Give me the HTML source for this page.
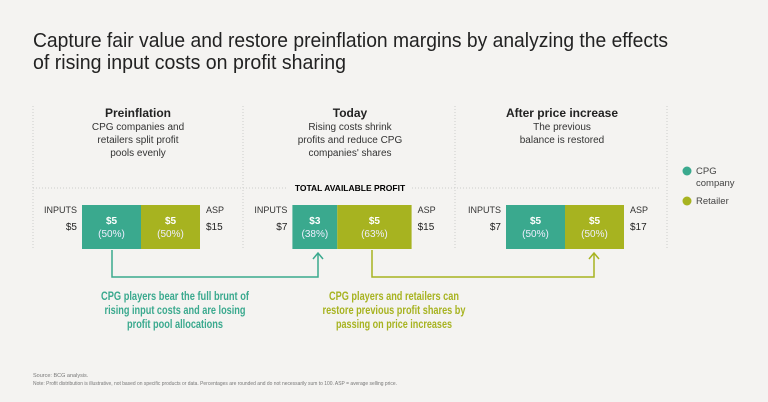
<!DOCTYPE html>
<html><head><meta charset="utf-8"><style>
body{margin:0;background:#f4f3f1;font-family:"Liberation Sans",sans-serif;color:#222}
svg{display:block}
</style></head><body>
<svg width="768" height="402" viewBox="0 0 768 402" font-family="Liberation Sans, sans-serif">
<rect width="768" height="402" fill="#f4f3f1"/>
<text x="33" y="47" font-size="20" fill="#222" textLength="635" lengthAdjust="spacingAndGlyphs">Capture fair value and restore preinflation margins by analyzing the effects</text>
<text x="33" y="69" font-size="20" fill="#222" textLength="313" lengthAdjust="spacingAndGlyphs">of rising input costs on profit sharing</text>
<g stroke="#ccc" stroke-dasharray="1,2" stroke-width="1">
<line x1="33" y1="106" x2="33" y2="248"/><line x1="243" y1="106" x2="243" y2="248"/>
<line x1="455" y1="106" x2="455" y2="248"/><line x1="667" y1="106" x2="667" y2="248"/>
<line x1="33" y1="188" x2="288" y2="188"/><line x1="412" y1="188" x2="660" y2="188"/>
</g>
<text x="350" y="191" font-size="8.5" font-weight="bold" text-anchor="middle">TOTAL AVAILABLE PROFIT</text>
<g id="panels"></g>
<path d="M112 250V277H318V253" fill="none" stroke="#3aa98e" stroke-width="1.5"/>
<path d="M313 259L318 253L323 259" fill="none" stroke="#3aa98e" stroke-width="1.5"/>
<path d="M372 250V277H594V253" fill="none" stroke="#a7b320" stroke-width="1.5"/>
<path d="M589 259L594 253L599 259" fill="none" stroke="#a7b320" stroke-width="1.5"/>
<g font-size="12" font-weight="bold" fill="#3aa98e" text-anchor="middle">
<text x="175" y="300" textLength="148" lengthAdjust="spacingAndGlyphs">CPG players bear the full brunt of</text>
<text x="175" y="314" textLength="141" lengthAdjust="spacingAndGlyphs">rising input costs and are losing</text>
<text x="175" y="328" textLength="96" lengthAdjust="spacingAndGlyphs">profit pool allocations</text></g>
<g font-size="12" font-weight="bold" fill="#a7b320" text-anchor="middle">
<text x="394" y="300" textLength="130" lengthAdjust="spacingAndGlyphs">CPG players and retailers can</text>
<text x="394" y="314" textLength="143" lengthAdjust="spacingAndGlyphs">restore previous profit shares by</text>
<text x="394" y="328" textLength="116" lengthAdjust="spacingAndGlyphs">passing on price increases</text></g>
<g font-size="9.5" fill="#444">
<circle cx="687" cy="171" r="4.5" fill="#3aa98e"/>
<text x="696" y="174">CPG</text>
<text x="696" y="186">company</text>
<circle cx="687" cy="201" r="4.5" fill="#a7b320"/>
<text x="696" y="204">Retailer</text>
</g>
<text x="33" y="377" font-size="5.5" fill="#777">Source: BCG analysis.</text>
<text x="33" y="385" font-size="5.5" fill="#777" textLength="364" lengthAdjust="spacingAndGlyphs">Note: Profit distribution is illustrative, not based on specific products or data. Percentages are rounded and do not necessarily sum to 100. ASP = average selling price.</text>
</svg>
<script>
const titles=["Preinflation","Today","After price increase"];
const subtitles=[["CPG companies and","retailers split profit","pools evenly"],["Rising costs shrink","profits and reduce CPG","companies' shares"],["The previous","balance is restored"]];
const inputs=[5,7,7];
const cpgValues=[5,3,5];
const cpgPct=[50,38,50];
const retailValues=[5,5,5];
const retailPct=[50,63,50];
const asp=[15,15,17];
const NS="http://www.w3.org/2000/svg";
const g=document.getElementById("panels");
const barCenters=[141,352,565], barTop=205, barH=44, pctScale=1.18;
const titleCenters=[138,350,562];
function el(t,a,txt){const e=document.createElementNS(NS,t);for(const k in a)e.setAttribute(k,a[k]);if(txt!=null)e.textContent=txt;g.appendChild(e);return e;}
titles.forEach((t,i)=>{
 const cx=titleCenters[i];
 const h=el("text",{x:cx,y:117,"font-size":12,"font-weight":"bold","text-anchor":"middle",fill:"#222"},t);
 
 
 subtitles[i].forEach((s,j)=>{const e=el("text",{x:cx,y:130+j*13,"font-size":10,"text-anchor":"middle",fill:"#333"},s);
  
  });
 const wc=cpgPct[i]*pctScale, wr=retailPct[i]*pctScale, tot=wc+wr;
 const x0=barCenters[i]-tot/2;
 const r1=el("rect",{x:x0,y:barTop,width:wc,height:barH,fill:"#3aa98e"});
 
 
 const r2=el("rect",{x:x0+wc,y:barTop,width:wr,height:barH,fill:"#a7b320"});
 
 
 [[x0+wc/2,cpgValues[i],cpgPct[i]],[x0+wc+wr/2,retailValues[i],retailPct[i]]].forEach(([x,v,p])=>{
  const a=el("text",{x:x,y:224,"font-size":10,"font-weight":"bold","text-anchor":"middle",fill:"#fff"},"$"+v);
  
  
  const b=el("text",{x:x,y:237,"font-size":10,"text-anchor":"middle",fill:"#eef"},"("+p+"%)");
  
  
 });
 const l1=el("text",{x:x0-5,y:213,"font-size":9,"text-anchor":"end",fill:"#333"},"INPUTS");
 
 
 const l2=el("text",{x:x0-5,y:230,"font-size":10,"text-anchor":"end",fill:"#222"},"$"+inputs[i]);
 
 
 const l3=el("text",{x:x0+tot+6,y:213,"font-size":9,fill:"#333"},"ASP");
 
 
 const l4=el("text",{x:x0+tot+6,y:230,"font-size":10,fill:"#222"},"$"+asp[i]);
 
 
});
</script>
</body></html>
